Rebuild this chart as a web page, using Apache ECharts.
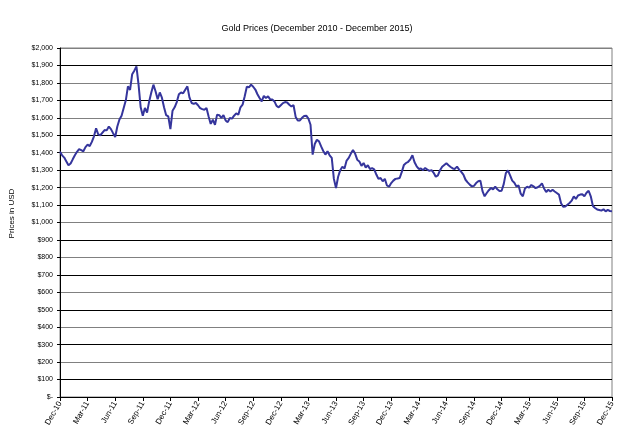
<!DOCTYPE html>
<html>
<head>
<meta charset="utf-8">
<script src="https://cdn.jsdelivr.net/npm/echarts@6/dist/echarts.min.js"></script>
<style>
  html, body { margin: 0; padding: 0; background: #fff; }
  #chart { width: 624px; height: 434px; }
</style>
</head>
<body>
<div id="chart"></div>
<script>
// quarter labels under the axis, one every 13 weekly points
const tickLabels = [
  "Dec-10", "Mar-11", "Jun-11", "Sep-11", "Dec-11", "Mar-12", "Jun-12",
  "Sep-12", "Dec-12", "Mar-13", "Jun-13", "Sep-13", "Dec-13", "Mar-14",
  "Jun-14", "Sep-14", "Dec-14", "Mar-15", "Jun-15", "Sep-15", "Dec-15",
];
const weeksPerTick = 13;

// weekly gold price (USD)
const prices = [
  1405, 1385, 1372, 1350, 1328, 1338, 1362, 1385, 1405, 1420,
  1415, 1408, 1432, 1446, 1438, 1462, 1494, 1540, 1505, 1500,
  1515, 1530, 1528, 1550, 1535, 1512, 1490, 1550, 1590, 1612,
  1656, 1700, 1780, 1760, 1850, 1870, 1895, 1790, 1660, 1612,
  1656, 1630, 1694, 1745, 1790, 1752, 1706, 1745, 1715, 1660,
  1615, 1608, 1535, 1640, 1660, 1690, 1735, 1745, 1740, 1761,
  1780, 1715, 1685, 1680, 1685, 1672, 1656, 1650, 1646, 1656,
  1608, 1565, 1589, 1560, 1618, 1615, 1600, 1615, 1585, 1575,
  1599, 1595, 1612, 1625, 1618, 1660, 1675, 1723, 1778, 1775,
  1790, 1778, 1762, 1735, 1713, 1694, 1725, 1713, 1723, 1706,
  1705, 1694, 1668, 1660, 1672, 1684, 1690, 1688, 1675, 1665,
  1672, 1605, 1585, 1585, 1600, 1610, 1612, 1595, 1560, 1389,
  1450, 1474, 1465, 1436, 1410, 1389, 1408, 1385, 1370, 1250,
  1198, 1262, 1300, 1320, 1310, 1355, 1370, 1395, 1415, 1395,
  1360, 1350, 1325, 1341, 1315, 1328, 1306, 1312, 1305, 1275,
  1250, 1255, 1236, 1250, 1212, 1205, 1226, 1240, 1250, 1252,
  1255, 1290, 1330, 1341, 1348, 1362, 1385, 1345, 1322, 1307,
  1310, 1300, 1312, 1303, 1296, 1300, 1285, 1262, 1270, 1300,
  1320, 1330, 1340, 1328, 1318, 1310, 1307, 1320, 1303, 1290,
  1274, 1245, 1230, 1217, 1207, 1210, 1226, 1236, 1240, 1180,
  1150, 1169, 1185, 1198, 1190, 1205, 1190, 1180, 1182, 1220,
  1283, 1299, 1270, 1240, 1228, 1207, 1212, 1165, 1150, 1195,
  1205, 1200, 1215, 1207, 1197, 1202, 1210, 1224, 1195, 1175,
  1188, 1178, 1188, 1178, 1169, 1160, 1110, 1090, 1092, 1102,
  1112, 1125, 1150, 1135, 1155, 1160, 1162, 1150, 1170, 1182,
  1150, 1095, 1083, 1075, 1072, 1068, 1076, 1064, 1072, 1066,
  1065,
];

const weeks = prices.map((_, i) =>
  i % weeksPerTick === 0 ? tickLabels[i / weeksPerTick] : ""
);

const font = "Liberation Sans, Arial, sans-serif";

function dollars(value) {
  return value === 0 ? "$-" : "$" + value.toLocaleString("en-US");
}

const chart = echarts.init(document.getElementById("chart"));
chart.setOption({
  animation: false,
  backgroundColor: "#fff",
  textStyle: { fontFamily: font },
  title: {
    text: "Gold Prices (December 2010 - December 2015)",
    left: 312,
    top: 19,
    textAlign: "center",
    textStyle: { fontSize: 9, fontWeight: "normal", color: "#000", fontFamily: font },
  },
  grid: {
    left: 57,
    right: 12,
    top: 48,
    bottom: 37,
    show: true,
    borderColor: "#808080",
    borderWidth: 1,
  },
  xAxis: {
    type: "category",
    data: weeks,
    boundaryGap: false,
    axisLine: { lineStyle: { color: "#000", width: 1 } },
    axisTick: { interval: weeksPerTick - 1, length: 4, lineStyle: { color: "#000" } },
    axisLabel: {
      interval: weeksPerTick - 1,
      rotate: 60,
      fontSize: 8,
      color: "#000",
      margin: 5,
      fontFamily: font,
    },
    splitLine: { show: false },
  },
  yAxis: {
    type: "value",
    min: 0,
    max: 2000,
    interval: 100,
    name: "Prices in USD",
    nameLocation: "middle",
    nameGap: 44,
    nameTextStyle: { fontSize: 8, color: "#000", fontFamily: font, padding: [0, 0, 0, 18] },
    axisLine: { show: true, lineStyle: { color: "#000", width: 1 } },
    axisTick: { show: true, length: 3, lineStyle: { color: "#000" } },
    axisLabel: {
      formatter: dollars,
      fontSize: 7,
      color: "#000",
      margin: 7,
      fontFamily: font,
    },
    splitLine: { lineStyle: { color: ["#808080", "#000"], width: 1 } },
  },
  series: [
    {
      type: "line",
      data: prices,
      showSymbol: false,
      lineStyle: { color: "#35359c", width: 2 },
      itemStyle: { color: "#35359c" },
    },
  ],
});
</script>
</body>
</html>
